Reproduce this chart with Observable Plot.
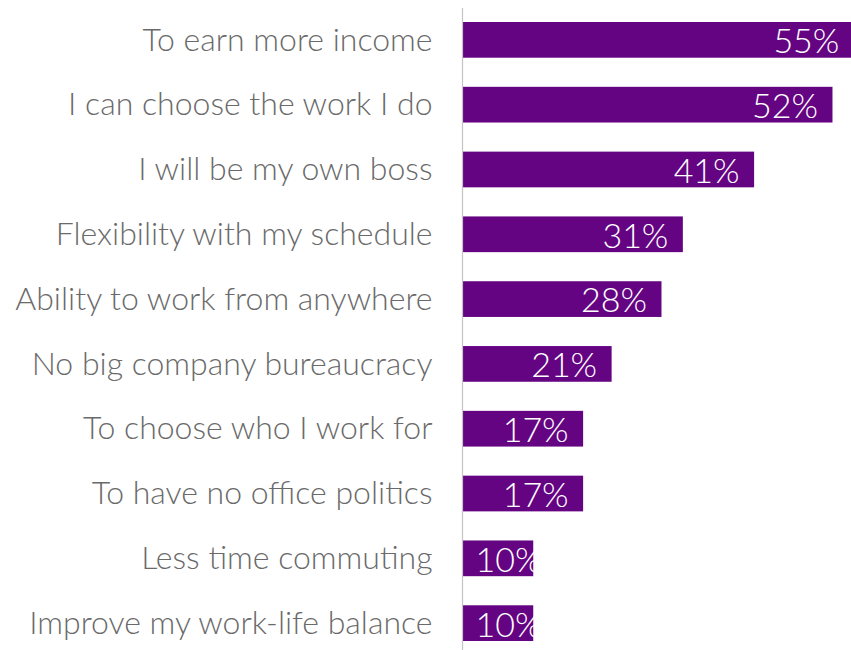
<!DOCTYPE html>
<html>
<head>
<meta charset="utf-8">
<script src="https://cdn.jsdelivr.net/npm/d3@7"></script>
<script src="https://cdn.jsdelivr.net/npm/@observablehq/plot@0.6"></script>
<style>
  html, body { margin: 0; padding: 0; background: #fff; overflow: hidden; }
  #chart svg { display: block; font-family: Lato, "Open Sans", sans-serif; font-weight: 300; }
</style>
</head>
<body>
<div id="chart"></div>
<script>
const reasons = [
  "To earn more income",
  "I can choose the work I do",
  "I will be my own boss",
  "Flexibility with my schedule",
  "Ability to work from anywhere",
  "No big company bureaucracy",
  "To choose who I work for",
  "To have no office politics",
  "Less time commuting",
  "Improve my work-life balance"
];
const shares = [55, 52, 41, 31, 28, 21, 17, 17, 10, 10];

const data = reasons.map((r, i) => ({reason: r, value: shares[i]}));

const chart = Plot.plot({
  width: 851,
  height: 650,
  marginLeft: 462,
  marginRight: 0,
  marginTop: 8,
  marginBottom: 0,
  style: {fontFamily: "Lato, 'Open Sans', sans-serif", fontWeight: 300, background: "#fff", overflow: "hidden"},
  x: {domain: [0, 54.6], axis: null},
  y: {domain: reasons, range: [22, 641], paddingInner: 0.449, paddingOuter: 0, round: false, label: null},
  marks: [
    Plot.barX(data, {x: "value", y: "reason", fill: "#650483"}),
    Plot.ruleX([0], {stroke: "#c4c4c4", strokeWidth: 1.2}),
    Plot.axisY({tickSize: 0, tickPadding: 30, fontSize: 32, fill: "#6a6a6a", label: null}),
    Plot.text(data, {
      x: d => Math.max(d.value, 13.2),
      y: "reason",
      text: d => d.value + "%",
      textAnchor: "end",
      dx: -15,
      dy: 2,
      fill: "#fff",
      fontSize: 34
    })
  ]
});
document.getElementById("chart").appendChild(chart);
</script>
</body>
</html>
